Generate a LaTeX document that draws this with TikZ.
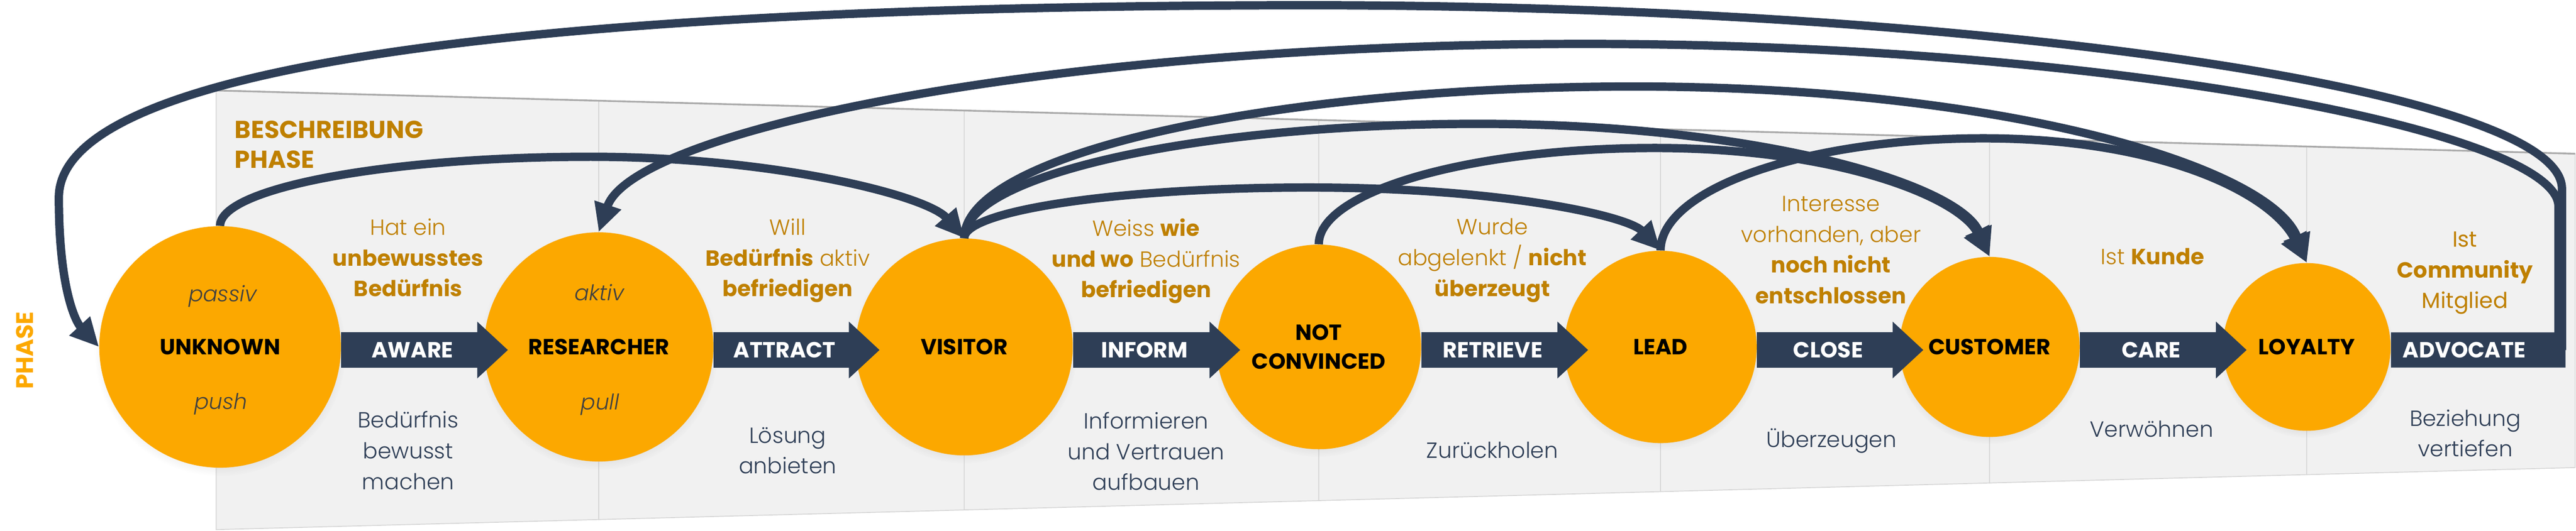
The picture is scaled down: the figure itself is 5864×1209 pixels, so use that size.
\documentclass[tikz,border=0pt]{standalone}
\usepackage{fontspec}
\setmainfont{Poppins}[UprightFont=* Light, ItalicFont=* Light Italic, BoldFont=* Bold]
\newfontfamily\regularfont{Poppins}
\usepackage{tikz}
\usetikzlibrary{arrows.meta,calc,shadows}

\definecolor{navy}{HTML}{2E3E56}
\definecolor{phaseorange}{HTML}{FCA800}
\definecolor{gold}{HTML}{BF8000}
\definecolor{panelgray}{HTML}{F1F1F1}
\definecolor{panelline}{HTML}{D5D5D5}

\begin{document}
\begin{tikzpicture}[x=0.1mm, y=-0.1mm,
    panel/.style={fill=panelgray, draw=panelline, line width=0.2mm},
    phase/.style={circle, fill=phaseorange, inner sep=0pt, align=center,
      font=\fontsize{14.2}{18.5}\selectfont\bfseries,
      circular drop shadow={shadow xshift=0mm, shadow yshift=-0.8mm, shadow scale=1.04, opacity=.2}},
    hint/.style={anchor=base, inner sep=0pt, text=black!75, font=\fontsize{14}{17}\selectfont\itshape},
    blockarrow/.style={draw=navy, line width=8mm, -{Triangle[length=7mm,width=12.5mm]}, shorten >=-5.5mm},
    blockbar/.style={draw=navy, line width=8mm},
    arrowlabel/.style={inner sep=0pt, text=white, font=\fontsize{14.2}{17}\selectfont\bfseries},
    jump/.style={draw=navy, line width=1.9mm, line join=round, -{Triangle[length=6.5mm,width=6mm]}},
    desc/.style={anchor=north, inner sep=0pt, align=center, font=\fontsize{14.2}{19.9}\selectfont},
    goal/.style={desc, text=gold},
    task/.style={desc, text=navy},
  ]
  \useasboundingbox (0,0) rectangle (5864,1209);
  \def\showPanels{
    % Panels in perspective
    \foreach \xa/\xb in {492/1363, 1363/2195, 2195/3002, 3002/3780, 3780/4529, 4529/5251, 5251/5862}
      \draw[panel] (\xa,{206+0.0268*(\xa-492)}) -- (\xb,{206+0.0268*(\xb-492)})
        -- (\xb,{1206-0.0263*(\xb-492)}) -- (\xa,{1206-0.0263*(\xa-492)}) -- cycle;
    \draw[panelline!80!black, line width=0.4mm] (492,206) -- (5862,350);
  }
  \def\phaseNodes{
    \foreach \name/\xc/\r/\txt in {unknown/501/275/UNKNOWN, researcher/1363/261/RESEARCHER,
        visitor/2195/247/VISITOR, notconv/3002/233/{NOT\\CONVINCED}, lead/3780/219/LEAD,
        customer/4529/205/CUSTOMER, loyalty/5251/191/LOYALTY}
      \node[phase, minimum size=0.2mm*\r] (\name) at (\xc,790) {\txt};
    \coordinate (advoEnd) at (5840,797);
    \coordinate (advoA) at (5832,797);
    \coordinate (advoB) at (5824,797);
  }
  \def\showArrows{
    \foreach \a/\b/\lbl in {unknown/researcher/AWARE, researcher/visitor/ATTRACT,
        visitor/notconv/INFORM, notconv/lead/RETRIEVE, lead/customer/CLOSE, customer/loyalty/CARE}
      \draw[blockarrow] ([yshift=-0.7mm]\a.east) -- node[arrowlabel] {\lbl} ([yshift=-0.7mm]\b.west);
    \draw[blockbar] ([yshift=-0.7mm]loyalty.east) -- node[arrowlabel, pos=.42] {ADVOCATE} (advoEnd);
  }
  \def\showJumps{
    % Back from advocate
    \draw[jump] (advoA) -- (5832,430) .. controls (5832,200) and (4464,12) .. (2982,12)
      .. controls (1500,12) and (134,110) .. (134,450) .. controls (134,650) and (170,730) .. (unknown.west);
    \draw[jump] (advoB) -- (5824,470) .. controls (5824,300) and (4800,100) .. (3609,100)
      .. controls (2369,100) and (1440,300) .. (researcher.north);
    % Forward jumps
    \draw[jump] (unknown.north) .. controls (501,428) and (881,357) .. (1345,357)
      .. controls (1760,357) and (2110,445) .. (visitor.north);
    \draw[jump] (visitor.north) .. controls (2195,479) and (2548,427) .. (2980,427)
      .. controls (3420,427) and (3706,492) .. (lead.north);
    \draw[jump] (visitor.north) .. controls (2195,399) and (2722,282) .. (3366,282)
      .. controls (4006,282) and (4460,420) .. (customer.north);
    \draw[jump] (visitor.north) .. controls (2195,353) and (2882,197) .. (3721,197)
      .. controls (4562,197) and (5170,380) .. (loyalty.north);
    \draw[jump] (notconv.north) .. controls (3002,436) and (3346,337) .. (3767,337)
      .. controls (4186,337) and (4460,450) .. (customer.north);
    \draw[jump] (lead.north) .. controls (3780,430) and (4111,315) .. (4515,315)
      .. controls (4920,315) and (5170,440) .. (loyalty.north);
  }
  \def\showTexts{
    \node[rotate=90, inner sep=0pt, text=phaseorange, font=\fontsize{15.5}{18}\selectfont\bfseries] (sidePhase) at (56,798) {PHASE};
    \node[anchor=north west, inner sep=0pt, align=left, text=gold, font=\fontsize{15.9}{19.6}\selectfont\bfseries] (headDesc) at (534,274) {BESCHREIBUNG\\PHASE};
    \node[hint] (passiv) at (507,687) {passiv};
    \node[hint] (push) at (503,932) {push};
    \node[hint] (aktiv) at (1364,684) {aktiv};
    \node[hint] (pull) at (1366,933) {pull};
    % Above the arrows
    \node[goal] (goalAware) at (929,497) {Hat ein\\\textbf{unbewusstes}\\\textbf{Bedürfnis}};
    \node[goal] (goalAttract) at (1793,497) {Will\\\textbf{Bedürfnis} aktiv\\\textbf{befriedigen}};
    \node[goal] (goalInform) at (2609,497) {Weiss \textbf{wie}\\\textbf{und wo} Bedürfnis\\\textbf{befriedigen}};
    \node[goal] (goalRetrieve) at (3397,497) {Wurde\\abgelenkt / \textbf{nicht}\\\textbf{überzeugt}};
    \node[goal] (goalClose) at (4168,446) {Interesse\\vorhanden, aber\\\textbf{noch nicht}\\\textbf{entschlossen}};
    \node[goal] (goalCare) at (4900,565) {Ist \textbf{Kunde}};
    \node[goal] (goalAdvocate) at (5611,527) {{\regularfont Ist}\\\textbf{Community}\\{\regularfont Mitglied}};
    % Below the arrows
    \node[task] (taskAware) at (929,936) {Bedürfnis\\bewusst\\machen};
    \node[task] (taskAttract) at (1793,972) {Lösung\\anbieten};
    \node[task] (taskInform) at (2609,938) {Informieren\\und Vertrauen\\aufbauen};
    \node[task] (taskRetrieve) at (3397,1005) {Zurückholen};
    \node[task] (taskClose) at (4169,975) {Überzeugen};
    \node[task] (taskCare) at (4898,957) {Verwöhnen};
    \node[task] (taskAdvocate) at (5612,932) {Beziehung\\vertiefen};
  }
  \showPanels
  \phaseNodes
  \showJumps
  \showArrows
  \showTexts
\end{tikzpicture}
\end{document}
